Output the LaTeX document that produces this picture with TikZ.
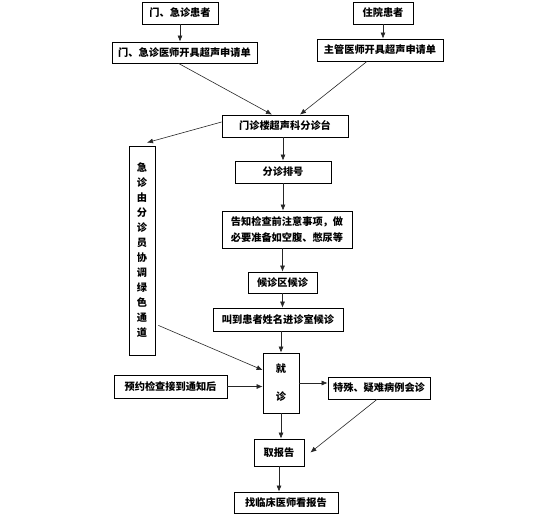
\documentclass[tikz,border=0pt]{standalone}
\usepackage{fontspec}
\newfontfamily\cjk{Noto Sans CJK SC}
\usetikzlibrary{arrows.meta,calc}
\tikzset{
  box/.style={draw=black, line width=0.8pt, inner sep=0pt, align=center,
    font=\cjk\bfseries\fontsize{10.2}{12}\selectfont},
  arr/.style={draw=black!85, line width=0.6pt, -{Latex[length=6pt,width=5pt]}},
}
\begin{document}
\begin{tikzpicture}[x=1pt,y=-1pt]
\useasboundingbox (0,0) rectangle (551,519);
\node[box, minimum width=76pt, minimum height=22pt] (p1) at (180,13) {门、急诊患者};
\node[box, minimum width=60pt, minimum height=22pt] (p2) at (383,13) {住院患者};
\node[box, minimum width=145pt, minimum height=21pt] (a1) at (184.5,52.5) {门、急诊医师开具超声申请单};
\node[box, minimum width=126pt, minimum height=22pt] (a2) at (380,50) {主管医师开具超声申请单};
\node[box, minimum width=126pt, minimum height=22pt] (t) at (285,126) {门诊楼超声科分诊台};
\node[box, minimum width=26pt, minimum height=209pt,
  font=\cjk\bfseries\fontsize{10.2}{15}\selectfont] (g) at (142,250.5)
  {急\\诊\\由\\分\\诊\\员\\协\\调\\绿\\色\\通\\道};
\node[box, minimum width=96pt, minimum height=22pt] (s) at (283,172) {分诊排号};
\node[box, minimum width=130pt, minimum height=37pt,
  font=\cjk\bfseries\fontsize{10.2}{16}\selectfont] (n) at (287,229.5)
  {告知检查前注意事项，做\\必要准备如空腹、憋尿等};
\node[box, minimum width=69pt, minimum height=21pt] (h) at (282.5,282.5) {候诊区候诊};
\node[box, minimum width=130pt, minimum height=23pt] (c) at (278,319.5) {叫到患者姓名进诊室候诊};
\node[box, minimum width=36pt, minimum height=60pt,
  font=\cjk\bfseries\fontsize{10.2}{14}\selectfont] (j) at (281,383) {就\\\mbox{}\\诊};
\node[box, minimum width=113pt, minimum height=23pt] (y) at (170.5,386.5) {预约检查接到通知后};
\node[box, minimum width=102pt, minimum height=22pt] (ts) at (379,388) {特殊、疑难病例会诊};
\node[box, minimum width=50pt, minimum height=27pt] (q) at (279,452.5) {取报告};
\node[box, minimum width=104pt, minimum height=21pt] (z) at (286,502.5) {找临床医师看报告};

\draw[arr] (p1) -- (p1|-a1.north);
\draw[arr] (p2) -- (p2|-a2.north);
\draw[arr] ($(a1.south)+(-6,0)$) -- ($(t.north)+(-13,0)$);
\draw[arr] ($(a2.south)+(-13,0)$) -- ($(t.north)+(15,0)$);
\draw[arr] ($(t.west)+(0,-4)$) -- ($(g.north)+(5,-3)$);
\draw[arr] (t.south -| s.north) -- (s.north);
\draw[arr] (s.south) -- (s.south|-n.north);
\draw[arr] (h.north|-n.south) -- (h.north);
\draw[arr] (h.south) -- (h.south|-c.north);
\draw[arr] (j.north|-c.south) -- (j.north);
\draw[arr] ($(g.south east)+(3,-30)$) -- ($(j.west)+(0,-13)$);
\draw[arr] (y.east) -- (y.east -| j.west);
\draw[arr] (j.east) -- (j.east -| ts.west);
\draw[arr] (j.south) -- (j.south|-q.north);
\draw[arr] ($(ts.south)+(-2,0)$) -- ($(q.east)+(6,0)$);
\draw[arr] (q.south) -- (q.south|-z.north);
\end{tikzpicture}
\end{document}
